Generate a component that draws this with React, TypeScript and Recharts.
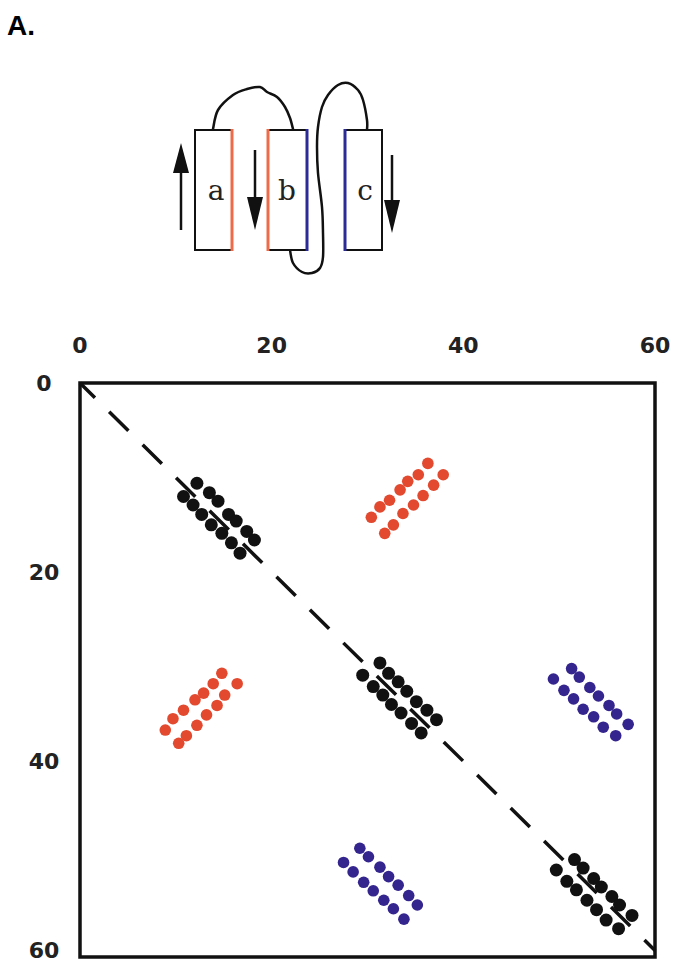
import React from "react";
import { ScatterChart, Scatter, XAxis, YAxis, ReferenceLine, ReferenceArea } from "recharts";

const axisTicks = [0, 20, 40, 60];

// residue pairs [i, j]
const diagA = [
  [12.2, 10.6], [13.5, 11.6], [14.4, 12.5], [15.5, 13.9], [16.3, 14.6], [17.4, 15.7], [18.2, 16.6],
  [10.8, 12.0], [11.8, 12.9], [12.7, 13.9], [13.7, 15.0], [14.8, 15.9], [15.8, 16.9], [16.7, 18.0],
];
const diagB = [
  [31.3, 29.6], [32.2, 30.7], [33.2, 31.6], [34.1, 32.6], [35.1, 33.7], [36.2, 34.6], [37.2, 35.6],
  [29.5, 30.9], [30.6, 32.1], [31.6, 33.0], [32.5, 34.0], [33.5, 34.9], [34.6, 36.0], [35.6, 37.0],
];
const diagC = [
  [51.6, 50.4], [52.5, 51.3], [53.6, 52.4], [54.4, 53.3], [55.5, 54.3], [56.3, 55.2], [57.6, 56.3],
  [49.7, 51.5], [50.8, 52.7], [51.8, 53.6], [52.9, 54.7], [53.9, 55.7], [54.9, 56.8], [56.2, 57.7],
];
const abTop = [
  [30.4, 14.2], [31.3, 13.1], [32.3, 12.4], [33.4, 11.3], [34.2, 10.4], [35.3, 9.7], [36.3, 8.5],
  [31.8, 15.9], [32.7, 15.0], [33.7, 13.8], [34.8, 12.9], [35.8, 11.9], [36.9, 10.8], [37.9, 9.7],
];
const baLeft = [
  [8.9, 36.7], [9.7, 35.5], [10.8, 34.6], [12.0, 33.5], [12.9, 32.8], [13.9, 31.8], [14.8, 30.7],
  [10.3, 38.1], [11.1, 37.3], [12.2, 36.2], [13.2, 35.1], [14.3, 34.1], [15.1, 33.0], [16.4, 31.8],
];
const bcRight = [
  [51.3, 30.2], [52.1, 31.1], [53.2, 32.2], [54.1, 33.1], [55.2, 34.1], [56.0, 35.0], [57.2, 36.1],
  [49.4, 31.3], [50.5, 32.5], [51.5, 33.4], [52.5, 34.5], [53.6, 35.3], [54.6, 36.4], [55.9, 37.3],
];
const cbBottom = [
  [29.2, 49.2], [30.1, 50.1], [31.3, 51.2], [32.2, 52.2], [33.2, 53.1], [34.3, 54.2], [35.2, 55.2],
  [27.5, 50.7], [28.5, 51.7], [29.6, 52.8], [30.6, 53.7], [31.7, 54.7], [32.7, 55.6], [33.8, 56.7],
];

const BLACK = "#111";
const RED = "#e2492e";
const BLUE = "#34248e";

const toPts = (arr: number[][]) => arr.map(([x, y]) => ({ x, y }));

const dot = (r: number, fill: string) => (p: any) => <circle cx={p.cx} cy={p.cy} r={r} fill={fill} />;

const TopTick = (p: any) => (
  <text x={p.x} y={353} textAnchor="middle" fontFamily="DejaVu Sans" fontWeight="bold" fontSize={22} fill="#222">
    {p.payload.value}
  </text>
);

const LeftTick = (p: any) => (
  <text x={44} y={p.y + 8} textAnchor="middle" fontFamily="DejaVu Sans" fontWeight="bold" fontSize={22} fill="#222">
    {p.payload.value}
  </text>
);

// smooth line through hand-drawn loop points
function smooth(pts: number[][]) {
  let d = `M${pts[0][0]},${pts[0][1]}`;
  for (let i = 0; i < pts.length - 1; i++) {
    const p0 = pts[i - 1] || pts[i];
    const p1 = pts[i];
    const p2 = pts[i + 1];
    const p3 = pts[i + 2] || p2;
    const c1x = p1[0] + (p2[0] - p0[0]) / 6;
    const c1y = p1[1] + (p2[1] - p0[1]) / 6;
    const c2x = p2[0] - (p3[0] - p1[0]) / 6;
    const c2y = p2[1] - (p3[1] - p1[1]) / 6;
    d += ` C${c1x},${c1y} ${c2x},${c2y} ${p2[0]},${p2[1]}`;
  }
  return d;
}

const loopAB = [
  [213, 129], [218, 110], [233, 95], [247, 89], [260, 87], [267, 92], [277, 97], [285, 107], [290, 118], [293, 129],
];
const loopBC = [
  [290, 250], [293, 263], [302, 272], [312, 273], [320, 268], [323, 257], [323, 233], [322, 207], [318, 173],
  [317, 147], [318, 127], [322, 107], [328, 95], [338, 85], [348, 83], [358, 90], [363, 100], [367, 120], [367, 130],
];

function Topology() {
  const arrowHead = (x: number, tip: number, base: number) => (
    <polygon points={`${x},${tip} ${x - 8},${base} ${x + 8},${base}`} fill={BLACK} />
  );
  return (
    <svg width={675} height={300} style={{ position: "absolute", left: 0, top: 0 }}>
      <text
        x={7}
        y={35}
        fontFamily="'Liberation Sans Narrow', 'Liberation Sans', Arial"
        fontWeight="bold"
        fontSize={28}
        fill="#000"
      >
        A.
      </text>
      <path d={smooth(loopAB)} fill="none" stroke={BLACK} strokeWidth={2.5} strokeLinecap="round" />
      <path d={smooth(loopBC)} fill="none" stroke={BLACK} strokeWidth={2.5} strokeLinecap="round" />
      {/* strand a */}
      <rect x={195} y={130} width={37} height={120} fill="#fff" stroke={BLACK} strokeWidth={2} />
      <line x1={232} y1={129} x2={232} y2={251} stroke="#ee6a48" strokeWidth={3} />
      {/* strand b */}
      <rect x={268} y={130} width={39} height={120} fill="#fff" stroke={BLACK} strokeWidth={2} />
      <line x1={268} y1={129} x2={268} y2={251} stroke="#ee6a48" strokeWidth={3} />
      <line x1={307} y1={129} x2={307} y2={251} stroke="#2c2a96" strokeWidth={3} />
      {/* strand c */}
      <rect x={345} y={130} width={37} height={120} fill="#fff" stroke={BLACK} strokeWidth={2} />
      <line x1={345} y1={129} x2={345} y2={251} stroke="#2c2a96" strokeWidth={3} />
      <g fontFamily="'DejaVu Serif', serif" fontSize={28} fill="#222" textAnchor="middle">
        <text x={216} y={200}>a</text>
        <text x={287} y={200}>b</text>
        <text x={365} y={200}>c</text>
      </g>
      <line x1={181} y1={230} x2={181} y2={165} stroke={BLACK} strokeWidth={2.5} />
      {arrowHead(181, 143, 173)}
      <line x1={255} y1={150} x2={255} y2={205} stroke={BLACK} strokeWidth={2.5} />
      {arrowHead(255, 230, 197)}
      <line x1={392} y1={155} x2={392} y2={208} stroke={BLACK} strokeWidth={2.5} />
      {arrowHead(392, 233, 200)}
    </svg>
  );
}

export default function App() {
  return (
    <div style={{ position: "absolute", left: 0, top: 0, width: 675, height: 964, background: "#fff" }}>
      <div style={{ position: "absolute", left: 0, top: 0 }}>
        <ScatterChart width={675} height={964} margin={{ top: 343, right: 20, bottom: 7, left: 20 }}>
          <XAxis
            type="number"
            dataKey="x"
            orientation="top"
            domain={[0, 60]}
            ticks={axisTicks}
            height={40}
            axisLine={false}
            tickLine={false}
            tick={<TopTick />}
            allowDataOverflow
          />
          <YAxis
            type="number"
            dataKey="y"
            domain={[0, 60.7]}
            reversed
            ticks={axisTicks}
            width={60}
            axisLine={false}
            tickLine={false}
            tick={<LeftTick />}
            allowDataOverflow
          />
          <ReferenceArea x1={0} x2={60} y1={0} y2={60.7} fill="none" fillOpacity={0} stroke={BLACK} strokeWidth={3.5} />
          <ReferenceLine
            segment={[{ x: 0, y: 0 }, { x: 60, y: 60 }]}
            stroke={BLACK}
            strokeWidth={3.5}
            strokeDasharray="27 20"
            strokeDashoffset={6}
          />
          <Scatter data={toPts(abTop)} shape={dot(5.8, RED)} isAnimationActive={false} />
          <Scatter data={toPts(baLeft)} shape={dot(5.8, RED)} isAnimationActive={false} />
          <Scatter data={toPts(bcRight)} shape={dot(5.8, BLUE)} isAnimationActive={false} />
          <Scatter data={toPts(cbBottom)} shape={dot(5.8, BLUE)} isAnimationActive={false} />
          <Scatter data={toPts(diagA)} shape={dot(6.5, BLACK)} isAnimationActive={false} />
          <Scatter data={toPts(diagB)} shape={dot(6.5, BLACK)} isAnimationActive={false} />
          <Scatter data={toPts(diagC)} shape={dot(6.5, BLACK)} isAnimationActive={false} />
        </ScatterChart>
      </div>
      <Topology />
    </div>
  );
}
